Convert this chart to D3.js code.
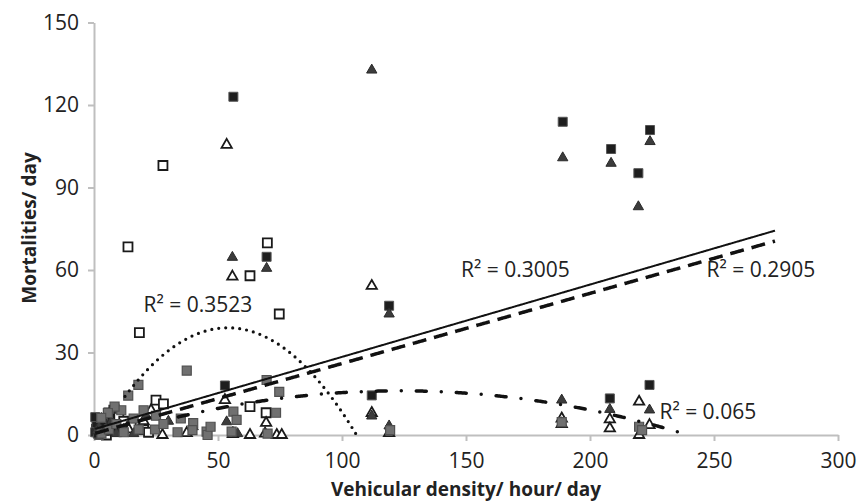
<!DOCTYPE html>
<html>
<head>
<meta charset="utf-8">
<script src="https://cdn.jsdelivr.net/npm/d3@7"></script>
<style>
  body { margin: 0; background: #fff; }
  svg { display: block; font-family: "Open Sans", sans-serif; }
</style>
</head>
<body>
<div id="chart"></div>
<script>
// ticks
const xTicks = [0, 50, 100, 150, 200, 250, 300];
const yTicks = [0, 30, 60, 90, 120, 150];

// series values [vehicular density, mortalities]
const openSquares = [
  [27.8, 98], [13.7, 68.4], [69.9, 69.9], [62.9, 57.9], [74.7, 44], [18.3, 37.2],
  [25, 12.7], [28, 11.3], [69.4, 8.1], [62.9, 10.3], [7.1, 5.5], [1, 2], [2, 5],
  [4, 4], [6, 8], [8, 9], [10, 7], [12, 5], [15, 3], [3, 1], [5, 0], [20, 2], [22, 1]
];
const blackSquares = [
  [56.2, 123], [189, 113.9], [208.5, 104], [219.5, 95.2], [224.2, 110.9], [69.6, 64.8],
  [119, 47], [112, 14.4], [52.8, 18], [208, 13.3], [224, 18.2], [1, 4], [3, 2],
  [5, 6], [0.5, 1], [2, 0], [0.5, 6.5], [1.5, 0.5], [3.5, 4.5], [6, 1.5], [8, 3]
];
const openTriangles = [
  [53.5, 105.5], [55.8, 57.6], [112, 54.2], [112, 8], [52.8, 12.7], [69.4, 4.4],
  [62.9, 0], [73.7, 0], [75.7, 0], [37.4, 0.7], [27.6, 0], [188.6, 6], [188.6, 4],
  [208, 5.7], [208, 2.4], [219.8, 12.1], [219.8, 0], [224, 3.6], [119, 0.7],
  [69, 0.5], [14, 2], [9, 1], [5, 3], [20, 5], [23, 9], [56, 0.3]
];
const blackTriangles = [
  [112, 132.7], [189, 100.8], [208.5, 98.8], [219.5, 83], [224.2, 106.7], [55.8, 64.6],
  [69.6, 60.6], [119, 44], [112, 6.9], [119, 3.3], [188.6, 12.7], [208, 9.3],
  [224, 9.1], [53.5, 4.8], [56, 1], [2, 3], [4, 1], [7, 5], [10, 9], [12, 2],
  [16, 0.5], [21, 7], [30, 5], [40, 3], [57.9, 0.5], [1, 1.5], [3, 6], [5, 2.5], [9, 0.5]
];
const graySquares = [
  [37.4, 23.4], [13.8, 14.3], [17.9, 18.2], [69.6, 20], [74.7, 15.7], [73.4, 8.1],
  [56.2, 8.5], [57.5, 5.5], [55.5, 1.2], [40, 4.3], [45.4, 1.2], [219.8, 3],
  [188.6, 4.7], [24.6, 2], [33.7, 1], [39.7, 1.8], [45.8, 0], [70, 0.5],
  [119.4, 1.8], [221, 1.8], [11, 9], [8.3, 10.3], [5.6, 8], [2.9, 6.2], [16, 6],
  [20, 9], [25, 7], [28, 4], [35, 6], [47, 3], [3, 0.5], [6, 2], [9, 4], [12, 1], [18, 2]
];

// trendlines: polynomial coefficients [c0, c1, c2], x range, R²
const trendCoefs = [[-3.28, 1.566, -0.0145], [2.1, 0.263, 0], [0.5, 0.255, 0], [-2.02, 0.2931, -0.001188]];
const trendRange = [[12.5, 105.5], [0.5, 274.6], [0.5, 274.6], [34, 237]];
const trendR2 = ["0.3523", "0.3005", "0.2905", "0.065"];

const width = 859;
const height = 502;

const svg = d3.select("#chart")
  .append("svg")
  .attr("width", width)
  .attr("height", height);

const x = d3.scaleLinear().domain([0, 300]).range([94, 838]);
const y = d3.scaleLinear().domain([0, 150]).range([435, 22.5]);

// axes
const xAxis = svg.append("g")
  .attr("transform", `translate(0,${y(0)})`)
  .call(d3.axisBottom(x).tickValues(xTicks).tickSize(6).tickSizeOuter(0).tickPadding(12));
const yAxis = svg.append("g")
  .attr("transform", `translate(${x(0)},0)`)
  .call(d3.axisLeft(y).tickValues(yTicks).tickSize(6).tickSizeOuter(0).tickPadding(9));

[xAxis, yAxis].forEach(g => {
  g.select(".domain").attr("stroke", "#bfbfbf").attr("stroke-width", 2);
  g.selectAll(".tick line").attr("stroke", "#bfbfbf").attr("stroke-width", 2);
  g.selectAll(".tick text")
    .attr("fill", "#222")
    .style("font-size", "21px")
    .style("font-family", '"Open Sans", sans-serif');
});

// axis titles
svg.append("text")
  .attr("x", 466).attr("y", 496)
  .attr("text-anchor", "middle")
  .style("font-size", "19px").style("font-weight", "bold")
  .attr("fill", "#222")
  .text("Vehicular density/ hour/ day");

svg.append("text")
  .attr("transform", `translate(36,228) rotate(-90)`)
  .attr("text-anchor", "middle")
  .style("font-size", "19px").style("font-weight", "bold")
  .attr("fill", "#222")
  .text("Mortalities/ day");

// markers
const sq = d3.symbol().type(d3.symbolSquare).size(81)();
const tri = d3.symbol().type(d3.symbolTriangle).size(46)();

const series = [
  { data: openSquares, path: sq, fill: "#fff", stroke: "#1a1a1a", sw: 1.8 },
  { data: blackSquares, path: sq, fill: "#1e1e1e", stroke: "#555", sw: 1 },
  { data: openTriangles, path: tri, fill: "#fff", stroke: "#1a1a1a", sw: 1.8 },
  { data: blackTriangles, path: tri, fill: "#3c3c3c", stroke: "#2a2a2a", sw: 1 },
  { data: graySquares, path: sq, fill: "#707070", stroke: "#505050", sw: 1.2 }
];

const gMarks = svg.append("g").attr("class", "marks");
series.forEach(s => {
  gMarks.append("g")
    .selectAll("path")
    .data(s.data)
    .enter()
    .append("path")
    .attr("d", s.path)
    .attr("transform", d => `translate(${x(d[0])},${y(d[1])})`)
    .attr("fill", s.fill)
    .attr("stroke", s.stroke)
    .attr("stroke-width", s.sw);
});

// trendlines
const trendStyle = [
  { dash: "0,7", w: 3.2, cap: "round" },
  { dash: null, w: 2, cap: "butt" },
  { dash: "14,8", w: 3.5, cap: "butt" },
  { dash: "10,15,0,15", w: 3.5, cap: "round" }
];

const line = d3.line().x(d => x(d[0])).y(d => y(d[1]));
trendCoefs.forEach((c, i) => {
  const [x0, x1] = trendRange[i];
  const pts = d3.range(x0, x1, 0.5).concat([x1]).map(v => [v, c[0] + c[1] * v + c[2] * v * v]);
  const st = trendStyle[i];
  svg.append("path")
    .attr("d", line(pts))
    .attr("fill", "none")
    .attr("stroke", "#111")
    .attr("stroke-width", st.w)
    .attr("stroke-linecap", st.cap)
    .attr("stroke-dasharray", st.dash);
});

// R² labels (anchor in data units)
const labelAt = [[20, 44.7], [148, 57.5], [247, 57.5], [228, 6]];
trendR2.forEach((r, i) => {
  svg.append("text")
    .attr("x", x(labelAt[i][0]))
    .attr("y", y(labelAt[i][1]))
    .style("font-size", "21px")
    .attr("fill", "#222")
    .text("R² = " + r);
});
</script>
</body>
</html>
